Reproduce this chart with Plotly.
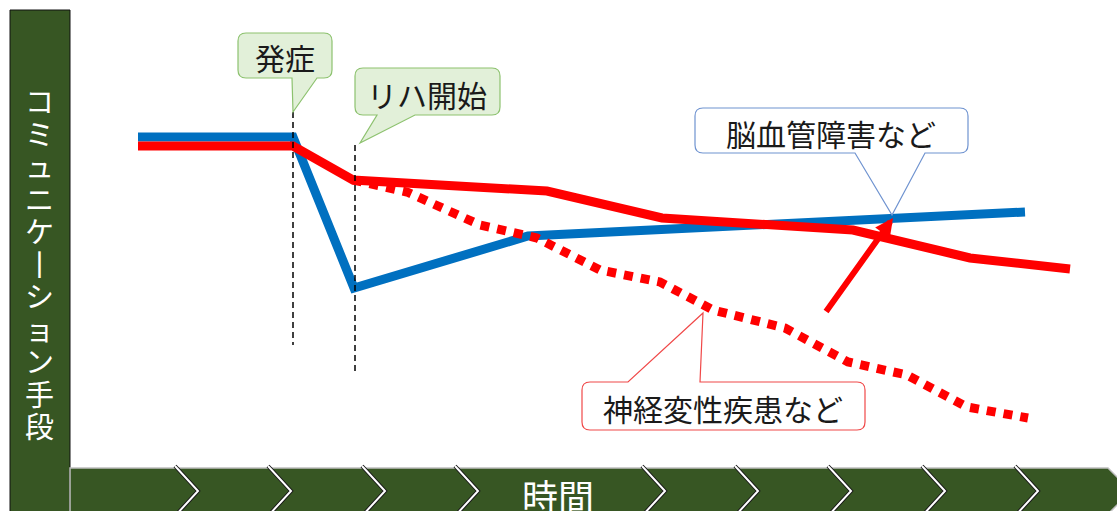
import plotly.graph_objects as go

W, H = 1117, 511
FONT = "Noto Sans CJK JP"

# ---- data (pixel-scale coordinates) ----
blue_x = [138, 293, 354, 528, 1025]
blue_y = [137, 137, 288, 236, 212]

red_x = [138, 293, 353, 547, 662, 853, 970, 1070]
red_y = [146, 146, 180, 191, 218, 230, 258, 269]

dot_x = [353, 407, 480, 537, 600, 660, 713, 785, 848, 907, 967, 1028]
dot_y = [180, 192, 225, 238, 270, 282, 310, 328, 362, 375, 407, 418]

onset_x, onset_y = [293, 293], [112, 345]
rehab_x, rehab_y = [355, 355], [145, 375]

arrow_from = (825, 313)
arrow_to = (893, 218)

y_label = "コミュニケーション手段"
x_label = "時間"
label_onset = "発症"
label_rehab = "リハ開始"
label_cvd = "脳血管障害など"
label_neuro = "神経変性疾患など"

chevron_tips = [198, 291, 385, 478, 665, 758, 851, 945, 1038]

GREEN = "#375623"
BLUE = "#0070C0"
RED = "#FF0000"

fig = go.Figure()

fig.add_trace(go.Scatter(x=blue_x, y=blue_y, mode="lines",
                         line=dict(color=BLUE, width=9), hoverinfo="skip"))
fig.add_trace(go.Scatter(x=dot_x, y=dot_y, mode="lines",
                         line=dict(color=RED, width=9, dash="9px,8px"), hoverinfo="skip"))
fig.add_trace(go.Scatter(x=red_x, y=red_y, mode="lines",
                         line=dict(color=RED, width=9), hoverinfo="skip"))
for xs, ys in [(onset_x, onset_y), (rehab_x, rehab_y)]:
    fig.add_trace(go.Scatter(x=xs, y=ys, mode="lines",
                             line=dict(color="black", width=1.5, dash="6px,4px"),
                             hoverinfo="skip"))

shapes = []
annotations = []

# left bar
shapes.append(dict(type="rect", x0=10, x1=70, y0=10, y1=520, fillcolor=GREEN,
                   line=dict(color="#111111", width=1), layer="above"))
# bottom band
shapes.append(dict(type="path",
                   path="M 70,468 L 1108,468 L 1131,491 L 1108,514 L 70,514 Z",
                   fillcolor=GREEN, line=dict(color="#bfbfbf", width=1.5), layer="above"))
for t in chevron_tips:
    p = f"M {t-23},466 L {t},491 L {t-23},516"
    shapes.append(dict(type="path", path=p, line=dict(color="#1a1a1a", width=4), layer="above"))
    shapes.append(dict(type="path", path=p, line=dict(color="white", width=2), layer="above"))


def callout_bottom(x0, y0, x1, y1, pa, pb, tx, ty, r=8):
    return (f"M {x0+r},{y0} L {x1-r},{y0} Q {x1},{y0} {x1},{y0+r} "
            f"L {x1},{y1-r} Q {x1},{y1} {x1-r},{y1} L {pb},{y1} L {tx},{ty} L {pa},{y1} "
            f"L {x0+r},{y1} Q {x0},{y1} {x0},{y1-r} L {x0},{y0+r} Q {x0},{y0} {x0+r},{y0} Z")


def callout_top(x0, y0, x1, y1, pa, pb, tx, ty, r=8):
    return (f"M {x0+r},{y0} L {pa},{y0} L {tx},{ty} L {pb},{y0} L {x1-r},{y0} Q {x1},{y0} {x1},{y0+r} "
            f"L {x1},{y1-r} Q {x1},{y1} {x1-r},{y1} "
            f"L {x0+r},{y1} Q {x0},{y1} {x0},{y1-r} L {x0},{y0+r} Q {x0},{y0} {x0+r},{y0} Z")


callouts = [
    (callout_bottom(238, 33, 332, 78, 292, 317, 293, 112), "#E2F0D9", "#8DC26F", label_onset, 285, 57),
    (callout_bottom(355, 68, 500, 115, 377, 415, 360, 143), "#E2F0D9", "#8DC26F", label_rehab, 427, 94),
    (callout_bottom(695, 108, 968, 153, 855, 925, 892, 215), "white", "#6F93D0", label_cvd, 831, 133),
    (callout_top(582, 382, 865, 430, 628, 700, 703, 313), "white", "#F04848", label_neuro, 723, 408),
]
for path, fill, border, text, cx, cy in callouts:
    shapes.append(dict(type="path", path=path, fillcolor=fill,
                       line=dict(color=border, width=1.2), layer="above"))
    annotations.append(dict(x=cx, y=cy, xref="x", yref="y", text=text, showarrow=False,
                            font=dict(family=FONT, size=30, color="#1a1a1a"),
                            xanchor="center", yanchor="middle"))

# arrow
annotations.append(dict(x=arrow_to[0], y=arrow_to[1], ax=arrow_from[0], ay=arrow_from[1],
                        xref="x", yref="y", axref="x", ayref="y", text="", showarrow=True,
                        arrowhead=2, arrowsize=0.6, arrowwidth=6, arrowcolor=RED, standoff=0))

# vertical y label: one text, one character per line (long-vowel mark drawn upright)
vert_chars = ["丨" if ch == "ー" else ch for ch in y_label]
vert_text = "<br>".join(f"<span style='font-size:29px'>{ch}</span>" for ch in vert_chars)
annotations.append(dict(x=39, y=262, xref="x", yref="y", text=vert_text, showarrow=False,
                        font=dict(family=FONT, size=25, color="white"),
                        xanchor="center", yanchor="middle", align="center"))

# x label
annotations.append(dict(x=558, y=494, xref="x", yref="y", text=x_label, showarrow=False,
                        height=33, valign="middle",
                        font=dict(family=FONT, size=36, color="white"),
                        xanchor="center", yanchor="middle"))

fig.update_layout(
    width=W, height=H, margin=dict(l=0, r=0, t=0, b=0),
    paper_bgcolor="white", plot_bgcolor="white", showlegend=False,
    xaxis=dict(range=[0, W], visible=False, fixedrange=True),
    yaxis=dict(range=[H, 0], visible=False, fixedrange=True),
    shapes=shapes, annotations=annotations,
)

fig.write_html("out.html")
